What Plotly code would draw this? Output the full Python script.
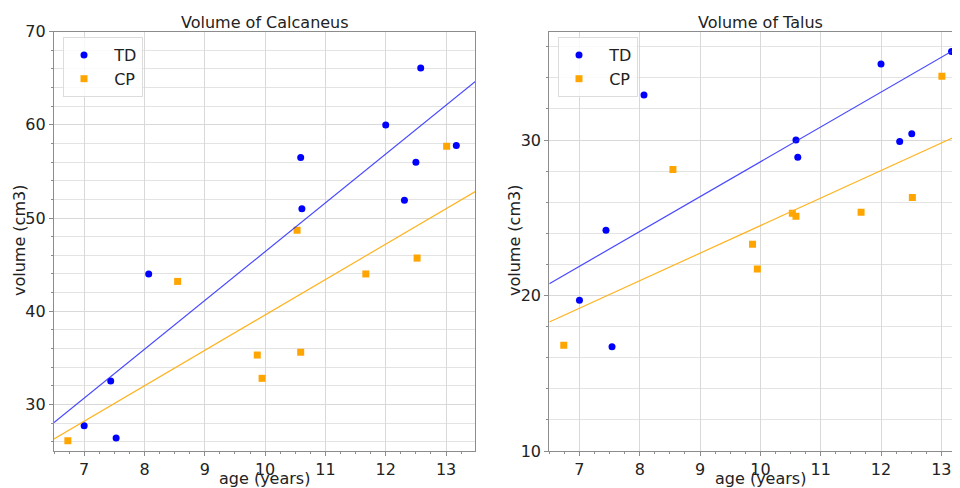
import plotly.graph_objects as go

# ---- Data ----
calc_td_age = [7.00, 7.44, 7.53, 8.07, 10.59, 10.61, 12.00, 12.31, 12.50, 12.58, 13.17]
calc_td_vol = [27.7, 32.5, 26.4, 44.0, 56.5, 51.0, 60.0, 51.9, 56.0, 66.1, 57.8]
calc_cp_age = [6.73, 8.55, 9.87, 9.95, 10.53, 10.59, 11.67, 12.52, 13.01]
calc_cp_vol = [26.1, 43.2, 35.3, 32.8, 48.7, 35.6, 44.0, 45.7, 57.7]

talus_td_age = [7.00, 7.44, 7.54, 8.07, 10.59, 10.62, 12.00, 12.31, 12.51, 13.17]
talus_td_vol = [19.7, 24.2, 16.7, 32.9, 30.0, 28.9, 34.9, 29.9, 30.4, 35.7]
talus_cp_age = [6.74, 8.55, 9.87, 9.95, 10.53, 10.59, 11.67, 12.52, 13.01]
talus_cp_vol = [16.8, 28.1, 23.3, 21.7, 25.3, 25.1, 25.35, 26.3, 34.1]

fit_age = [6.5, 13.5]
calc_td_fit = [28.05, 64.73]
calc_cp_fit = [26.30, 52.90]
talus_td_fit = [20.76, 36.44]
talus_cp_fit = [18.30, 30.69]

x_ticks = [7, 8, 9, 10, 11, 12, 13]
calc_y_ticks = [30, 40, 50, 60, 70]
talus_y_ticks = [10, 20, 30]

BLUE = "#0000ff"
ORANGE = "#ffa500"
FONT = "DejaVu Sans"
TXT = "#222222"
NB = "\u00a0\u00a0"

fig = go.Figure()

def add_panel(td_x, td_y, cp_x, cp_y, td_fit, cp_fit, xa, ya, lg):
    fig.add_trace(go.Scatter(x=td_x, y=td_y, mode="markers", name=NB + "TD",
                             marker=dict(color=BLUE, size=7, symbol="circle"),
                             xaxis=xa, yaxis=ya, showlegend=True, legend=lg))
    fig.add_trace(go.Scatter(x=cp_x, y=cp_y, mode="markers", name=NB + "CP",
                             marker=dict(color=ORANGE, size=7, symbol="square"),
                             xaxis=xa, yaxis=ya, showlegend=True, legend=lg))
    fig.add_trace(go.Scatter(x=fit_age, y=td_fit, mode="lines",
                             line=dict(color="rgba(40,40,255,0.85)", width=1.2),
                             xaxis=xa, yaxis=ya, showlegend=False, hoverinfo="skip"))
    fig.add_trace(go.Scatter(x=fit_age, y=cp_fit, mode="lines",
                             line=dict(color="rgba(255,175,20,0.95)", width=1.2),
                             xaxis=xa, yaxis=ya, showlegend=False, hoverinfo="skip"))

add_panel(calc_td_age, calc_td_vol, calc_cp_age, calc_cp_vol, calc_td_fit, calc_cp_fit, "x", "y", "legend")
add_panel(talus_td_age, talus_td_vol, talus_cp_age, talus_cp_vol, talus_td_fit, talus_cp_fit, "x2", "y2", "legend2")

# The page body has an 8px default margin, so the figure is drawn 8px smaller
# and all layout pixel positions are shifted by that offset.
OFF = 8
W, H = 960 - OFF, 488 - OFF

def px(v):
    return (v - OFF) / W

def py(v):
    return 1 - (v - OFF) / H

ydom = [py(451), py(31.7)]
axis_common = dict(
    showline=True, linecolor="#8c8c8c", linewidth=1.2,
    ticks="outside", ticklen=4, tickcolor="#8c8c8c",
    tickfont=dict(family=FONT, size=16, color=TXT),
    showgrid=True, gridcolor="#d9d9d9", gridwidth=1,
    zeroline=False, automargin=False,
)
xminor = dict(dtick=0.25, ticks="outside", ticklen=2, tickcolor="#8c8c8c", showgrid=False)
yminor = dict(dtick=2, ticks="outside", ticklen=2, tickcolor="#8c8c8c", showgrid=True,
              gridcolor="#e3e3e3", gridwidth=1)

title_font = dict(family=FONT, size=16, color=TXT)

def ann(text, x, y, angle=0):
    return dict(text=text, x=px(x), y=py(y), xref="paper", yref="paper",
                showarrow=False, font=title_font, textangle=angle,
                xanchor="center", yanchor="middle")

legend_common = dict(xanchor="left", yanchor="top",
                     bgcolor="rgba(255,255,255,0.8)", bordercolor="#dcdcdc", borderwidth=1,
                     font=dict(family=FONT, size=16, color=TXT), itemwidth=30)

fig.update_layout(
    width=W, height=H,
    margin=dict(l=0, r=0, t=0, b=0),
    paper_bgcolor="white", plot_bgcolor="white",
    font=dict(family=FONT, size=16, color=TXT),
    xaxis=dict(domain=[px(54), px(475)], range=[6.5, 13.48], tickvals=x_ticks,
               mirror=True, minor=xminor, anchor="y", **axis_common),
    yaxis=dict(domain=ydom, range=[25, 70], tickvals=calc_y_ticks, mirror=True,
               minor=yminor, anchor="x", **axis_common),
    xaxis2=dict(domain=[px(549.3), 1.0], range=[6.5, 13.31], tickvals=x_ticks,
                mirror=True, minor=xminor, anchor="y2", **axis_common),
    yaxis2=dict(domain=ydom, range=[10, 36.97], tickvals=talus_y_ticks, mirror=False,
                minor=yminor, anchor="x2", **axis_common),
    legend=dict(x=px(63), y=py(37), **legend_common),
    legend2=dict(x=px(558), y=py(37), **legend_common),
    annotations=[
        ann("Volume of Calcaneus", (54 + 475) / 2, 22),
        ann("Volume of Talus", 760, 22),
        ann("age (years)", (54 + 475) / 2, 478),
        ann("age (years)", 760, 478),
        ann("volume (cm3)", 20, 241, -90),
        ann("volume (cm3)", 515, 241, -90),
    ],
)

fig.write_html("out.html")
